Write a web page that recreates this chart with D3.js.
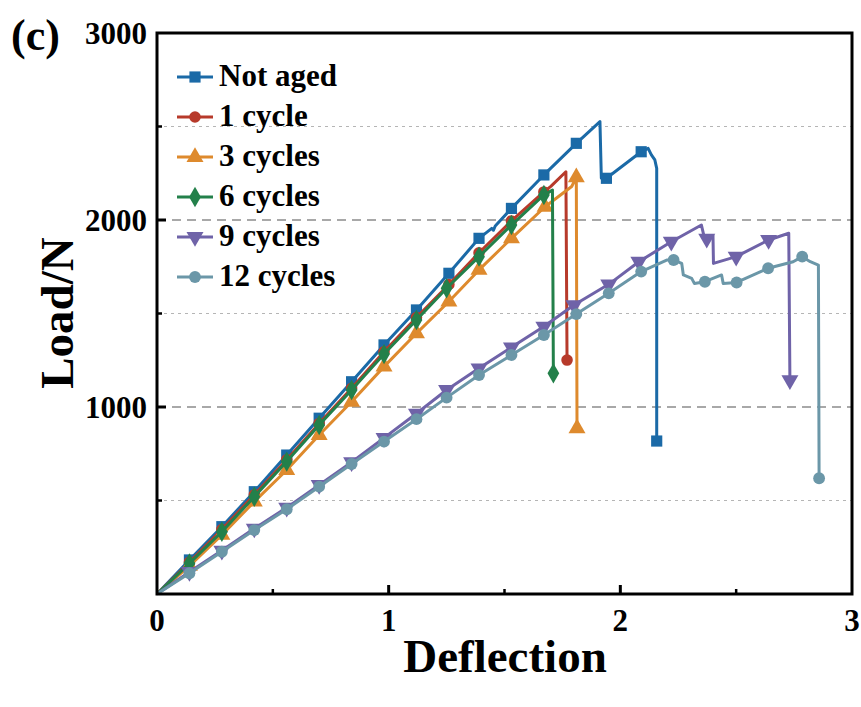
<!DOCTYPE html>
<html><head><meta charset="utf-8">
<script src="https://cdn.jsdelivr.net/npm/d3@7"></script>
<style>body{margin:0;background:#fff}svg text{font-family:"Liberation Serif","Times New Roman",serif;font-weight:bold;fill:#000}</style>
</head><body>
<svg id="c" width="861" height="707"></svg>
<script>
// ---- data ----
const seriesNames = ["Not aged","1 cycle","3 cycles","6 cycles","9 cycles","12 cycles"];
const notAged = [[0,0],[0.14,182],[0.28,360],[0.42,547],[0.56,743],[0.70,940],[0.84,1135],[0.98,1332],[1.12,1519],[1.26,1715],[1.39,1902],[1.445,1955],[1.452,1945],[1.46,1968],[1.53,2062],[1.67,2241],[1.81,2410],[1.912,2526],[1.918,2223],[1.94,2223],[2.09,2365],[2.12,2383],[2.134,2348],[2.149,2321],[2.157,2276],[2.157,818]];
const notAgedMk = [1,2,3,4,5,6,7,8,9,10,14,15,16,19,20,25];
const cycle1 = [[0,0],[0.14,170],[0.28,345],[0.42,530],[0.56,718],[0.70,912],[0.84,1100],[0.98,1295],[1.12,1478],[1.26,1655],[1.39,1825],[1.53,1995],[1.67,2150],[1.70,2180],[1.765,2258],[1.77,1251]];
const cycle1Mk = [1,2,3,4,5,6,7,8,9,10,11,12,15];
const cycle3 = [[0,0],[0.14,150],[0.28,316],[0.42,494],[0.56,663],[0.70,850],[0.84,1028],[0.98,1216],[1.12,1394],[1.26,1564],[1.39,1733],[1.53,1902],[1.675,2071],[1.79,2179],[1.81,2228],[1.813,886]];
const cycle3Mk = [1,2,3,4,5,6,7,8,9,10,11,12,14,15];
const cycle6 = [[0,0],[0.14,164],[0.28,333],[0.42,520],[0.56,708],[0.70,904],[0.84,1091],[0.98,1283],[1.12,1465],[1.25,1635],[1.39,1804],[1.53,1973],[1.67,2134],[1.707,2160],[1.711,1180]];
const cycle6Mk = [1,2,3,4,5,6,7,8,9,10,11,12,14];
const cycle9 = [[0,0],[0.14,118],[0.28,232],[0.42,350],[0.56,462],[0.70,583],[0.84,705],[0.98,835],[1.12,965],[1.25,1091],[1.39,1207],[1.53,1319],[1.67,1430],[1.80,1545],[1.95,1656],[2.08,1777],[2.22,1884],[2.35,1973],[2.365,1893],[2.373,1900],[2.40,1915],[2.402,1768],[2.50,1804],[2.64,1893],[2.727,1929],[2.732,1144]];
const cycle9Mk = [1,2,3,4,5,6,7,8,9,10,11,12,13,14,15,16,19,22,23,25];
const cycle12 = [[0,0],[0.14,111],[0.28,226],[0.42,342],[0.56,453],[0.70,574],[0.84,695],[0.98,815],[1.12,935],[1.25,1050],[1.39,1171],[1.53,1278],[1.67,1385],[1.81,1497],[1.95,1608],[2.09,1724],[2.20,1786],[2.23,1786],[2.265,1768],[2.272,1706],[2.308,1688],[2.32,1660],[2.365,1670],[2.437,1706],[2.444,1661],[2.502,1666],[2.638,1742],[2.746,1777],[2.785,1804],[2.82,1777],[2.855,1759],[2.858,619]];
const cycle12Mk = [1,2,3,4,5,6,7,8,9,10,11,12,13,14,15,17,22,25,26,28,31];
const xTicks = [0,1,2,3];
const xMinor = [0.5,1.5,2.5];
const yTicks = [1000,2000,3000];
const yMinor = [500,1500,2500];

// ---- styles ----
const colors = ["#1b6aa7","#b73a2b","#de8a2d","#23804a","#6f63a8","#6b97a8"];
const shapes = [d3.symbolSquare,d3.symbolCircle,d3.symbolTriangle,d3.symbolDiamond,"tri-down",d3.symbolCircle];
const allData = [notAged,cycle1,cycle3,cycle6,cycle9,cycle12];
const allMk = [notAgedMk,cycle1Mk,cycle3Mk,cycle6Mk,cycle9Mk,cycle12Mk];

const svg = d3.select("#c");
const L=157,R=852,T=33,B=594;
const x = d3.scaleLinear().domain([0,3]).range([L,R]);
const y = d3.scaleLinear().domain([0,3000]).range([B,T]);

// grid
svg.append("g").selectAll("line").data(yTicks.filter(v=>v<3000)).join("line")
  .attr("x1",L).attr("x2",R).attr("y1",d=>y(d)).attr("y2",d=>y(d))
  .attr("stroke","#8c8c8c").attr("stroke-width",1.3).attr("stroke-dasharray","9,6");
svg.append("g").selectAll("line").data(yMinor).join("line")
  .attr("x1",L).attr("x2",R).attr("y1",d=>y(d)).attr("y2",d=>y(d))
  .attr("stroke","#b5b5b5").attr("stroke-width",1).attr("stroke-dasharray","3,4");

// series
const line = d3.line().x(d=>x(d[0])).y(d=>y(d[1]));
function symPath(s, size){
  if(s==="tri-down") return d3.symbol(d3.symbolTriangle,size)();
  return d3.symbol(s,size)();
}
const sizes=[125,105,125,120,125,110];
allData.forEach((data,i)=>{
  const g = svg.append("g");
  g.append("path").attr("d",line(data)).attr("fill","none")
    .attr("stroke",colors[i]).attr("stroke-width",3).attr("stroke-linejoin","round");
  const pts = allMk[i].map(k=>data[k]);
  g.selectAll("path.m").data(pts).join("path").attr("class","m")
    .attr("d",symPath(shapes[i],sizes[i]))
    .attr("transform",d=>`translate(${x(d[0])},${y(d[1])})`+(shapes[i]==="tri-down"?" rotate(180)":""))
    .attr("fill",colors[i]);
});

// axes frame
const frame = svg.append("g").attr("stroke","#000").attr("stroke-width",3).attr("fill","none");
frame.append("rect").attr("x",L).attr("y",T).attr("width",R-L).attr("height",B-T);
// ticks (inward)
svg.append("g").selectAll("line").data(yTicks.filter(v=>v<3000)).join("line")
  .attr("x1",L).attr("x2",L+9).attr("y1",d=>y(d)).attr("y2",d=>y(d)).attr("stroke","#000").attr("stroke-width",3);
svg.append("g").selectAll("line").data(yMinor).join("line")
  .attr("x1",L).attr("x2",L+5).attr("y1",d=>y(d)).attr("y2",d=>y(d)).attr("stroke","#000").attr("stroke-width",2.5);
svg.append("g").selectAll("line").data(xTicks.filter(v=>v>0&&v<3)).join("line")
  .attr("x1",d=>x(d)).attr("x2",d=>x(d)).attr("y1",B).attr("y2",B-9).attr("stroke","#000").attr("stroke-width",3);
svg.append("g").selectAll("line").data(xMinor).join("line")
  .attr("x1",d=>x(d)).attr("x2",d=>x(d)).attr("y1",B).attr("y2",B-5).attr("stroke","#000").attr("stroke-width",2.5);

// tick labels
svg.append("g").selectAll("text").data(yTicks).join("text")
  .attr("x",L-10).attr("y",d=>y(d)+10.5).attr("text-anchor","end").attr("font-size",31).text(d=>d);
svg.append("g").selectAll("text").data(xTicks).join("text")
  .attr("x",d=>x(d)).attr("y",B+37).attr("text-anchor","middle").attr("font-size",31).text(d=>d);

// axis titles
svg.append("text").attr("x",505).attr("y",672).attr("text-anchor","middle").attr("font-size",47).text("Deflection");
svg.append("text").attr("transform","translate(73,313) rotate(-90)").attr("text-anchor","middle").attr("font-size",47).text("Load/N");
svg.append("text").attr("x",11).attr("y",50).attr("font-size",44).text("(c)");

// legend
const lg = svg.append("g");
seriesNames.forEach((name,i)=>{
  const cy = 77 + i*40;
  lg.append("line").attr("x1",177).attr("x2",213).attr("y1",cy).attr("y2",cy).attr("stroke",colors[i]).attr("stroke-width",3);
  lg.append("path").attr("d",symPath(shapes[i],sizes[i]))
    .attr("transform",`translate(195,${cy})`+(shapes[i]==="tri-down"?" rotate(180)":"")).attr("fill",colors[i]);
  lg.append("text").attr("x",219).attr("y",cy+9).attr("font-size",31).text(name);
});
</script>
</body></html>
